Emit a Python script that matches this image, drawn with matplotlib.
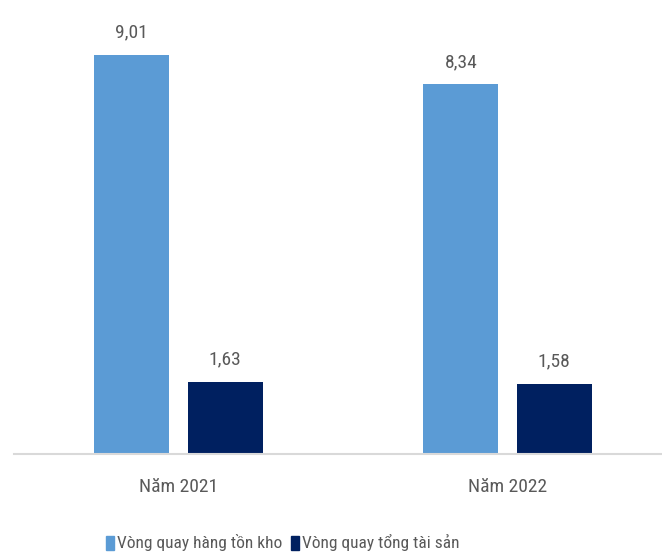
import matplotlib
matplotlib.use("Agg")
import matplotlib.pyplot as plt
from matplotlib.patches import Rectangle
import numpy as np

plt.rcParams['font.family'] = ['Roboto Condensed', 'Liberation Sans Narrow', 'Roboto', 'DejaVu Sans']

categories = ["Năm 2021", "Năm 2022"]
series_names = ["Vòng quay hàng tồn kho", "Vòng quay tổng tài sản"]
inventory_turnover = [9.01, 8.34]
asset_turnover = [1.63, 1.58]
series_values = [inventory_turnover, asset_turnover]
colors = ["#5B9BD5", "#002060"]
text_color = "#595959"

W, H = 662, 553
fig = plt.figure(figsize=(W / 100, H / 100), dpi=100)
ax_left, ax_bottom = 14, H - 454
ax = fig.add_axes([ax_left / W, ax_bottom / H, (W - ax_left) / W, 454 / H])

x = np.arange(len(categories))
bar_w = 0.228
offsets = [-0.142, 0.142]
for vals, off, col in zip(series_values, offsets, colors):
    bars = ax.bar(x + off, vals, width=bar_w, color=col)
    for b, v in zip(bars, vals):
        ax.annotate(f"{v:.2f}".replace(".", ","), (b.get_x() + b.get_width() / 2, v),
                    xytext=(0, 12.5), textcoords="offset points", ha="center", va="baseline",
                    fontsize=14, color=text_color)

ax.set_xlim(-0.5, -0.5 + (W - ax_left) / 329)
ax.set_ylim(0, 10.24)
ax.set_xticks(x)
ax.set_xticklabels(categories, fontsize=14, color=text_color)
ax.tick_params(axis='x', length=0, pad=17)
ax.set_yticks([])
for s in ["top", "right", "left"]:
    ax.spines[s].set_visible(False)
ax.spines["bottom"].set_color("#D9D9D9")
ax.spines["bottom"].set_linewidth(1.5)

# legend
leg_items = [(106, 117), (291, 302)]
for (mx, tx), name, col in zip(leg_items, series_names, colors):
    fig.add_artist(Rectangle((mx / W, (H - 550) / H), 8 / W, 14 / H, color=col,
                             transform=fig.transFigure))
    fig.text(tx / W, (H - 548) / H, name, fontsize=12.5, color=text_color,
             ha="left", va="baseline")

fig.savefig("out.png", dpi=100)
